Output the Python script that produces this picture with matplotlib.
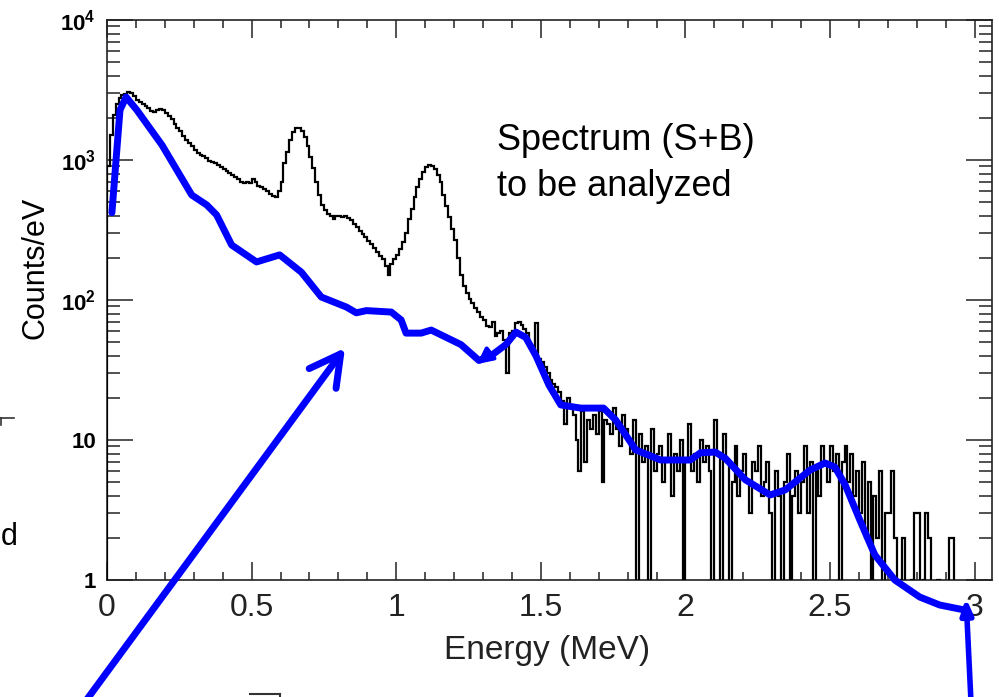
import numpy as np
import matplotlib
matplotlib.use("Agg")
import matplotlib.pyplot as plt
from matplotlib.lines import Line2D
from matplotlib.ticker import FixedLocator, FixedFormatter, LogLocator, MultipleLocator, NullFormatter

plt.rcParams['font.family'] = ['Liberation Sans', 'DejaVu Sans']
plt.rcParams['mathtext.fontset'] = 'custom'
plt.rcParams['mathtext.rm'] = 'Liberation Sans'
plt.rcParams['mathtext.bf'] = 'Liberation Sans:bold'

bin_width = 0.01
counts = [
    900, 1500, 2100, 2500, 2750, 2900, 2950, 3050, 3000, 2850,   # 0.0
    2700, 2600, 2500, 2420, 2350, 2250, 2200, 2260, 2310, 2260,  # 0.1
    2150, 2050, 1950, 1820, 1700, 1600, 1480, 1400, 1320, 1250,  # 0.2
    1180, 1130, 1090, 1060, 1030, 990, 970, 950, 920, 890,       # 0.3
    860, 830, 810, 780, 760, 730, 700, 680, 700, 690,            # 0.4
    730, 700, 650, 640, 620, 600, 570, 550, 540, 600,            # 0.5
    700, 950, 1150, 1380, 1580, 1680, 1700, 1620, 1450, 1250,    # 0.6
    1050, 880, 700, 560, 480, 440, 410, 400, 380, 395,           # 0.7
    400, 390, 395, 385, 370, 350, 330, 310, 295, 280,            # 0.8
    265, 250, 235, 220, 205, 195, 175, 150, 180, 195,            # 0.9
    210, 230, 260, 300, 380, 450, 540, 640, 730, 820,            # 1.0
    890, 920, 910, 860, 780, 700, 560, 470, 390, 320,            # 1.1
    270, 200, 150, 125, 112, 102, 95, 88, 82, 76,                # 1.2
    72, 65, 64, 70, 55, 58, 60, 52, 30, 58,                      # 1.3
    60, 68, 70, 66, 62, 58, 48, 44, 68, 38,                      # 1.4
    36, 33, 30, 27, 25, 24, 22, 19, 13, 20,                      # 1.5
    17, 15, 10, 6, 16, 7, 14, 12, 15, 11,                        # 1.6
    16, 5, 14, 13, 11, 17, 12, 9, 15, 12,                        # 1.7
    10, 8, 14, 0, 11, 7, 9, 0, 12, 6,                            # 1.8
    8, 9, 5, 7, 11, 4, 8, 6, 10, 0,                              # 1.9
    7, 13, 6, 8, 5, 10, 7, 9, 6, 0,                              # 2.0
    14, 8, 0, 11, 7, 0, 5, 9, 4, 6,                              # 2.1
    8, 5, 3, 7, 6, 9, 4, 5, 7, 3,                                # 2.2
    0, 6, 4, 0, 5, 8, 0, 4, 6, 3,                                # 2.3
    5, 9, 3, 7, 0, 6, 4, 9, 7, 5,                                # 2.4
    9, 6, 8, 0, 7, 9, 5, 8, 4, 6,                                # 2.5
    3, 7, 2, 5, 0, 4, 2, 6, 0, 3,                                # 2.6
    3, 6, 2, 0, 1, 2, 0, 0, 1, 3,                                # 2.7
    3, 0, 1, 3, 2, 0, 0, 1, 0, 0,                                # 2.8
    0, 2, 2, 0, 0, 0, 0, 0, 0, 0,                                # 2.9
]

# hand drawn blue background estimate
blue_e = [0.017, 0.034, 0.045, 0.066, 0.103, 0.19, 0.293, 0.345, 0.379, 0.431,
          0.517, 0.597, 0.672, 0.741, 0.828, 0.862, 0.897, 0.983, 1.017, 1.034,
          1.086, 1.121, 1.224, 1.286, 1.328, 1.379, 1.414, 1.448, 1.483, 1.528,
          1.569, 1.638, 1.717, 1.759, 1.828, 1.914, 2.017, 2.052, 2.103, 2.138,
          2.207, 2.293, 2.345, 2.431, 2.483, 2.517, 2.552, 2.603, 2.655, 2.724,
          2.81, 2.879, 2.966]
blue_y = [420, 1180, 2276, 2818, 2276, 1280, 562, 477, 405, 247,
          187, 210, 158, 105, 89, 81, 84, 82, 72, 58,
          58, 61, 48, 37, 40, 48, 59, 54, 40, 24.7,
          17.8, 16.9, 16.9, 13.9, 8.5, 7.2, 7.2, 8.1, 8.2, 7.4,
          5.2, 4.05, 4.4, 6.1, 6.85, 6.4, 4.8, 2.68, 1.51, 1.0,
          0.756, 0.663, 0.61]

x_ticks = [0, 0.5, 1, 1.5, 2, 2.5, 3]
x_labels = ['0', '0.5', '1', '1.5', '2', '2.5', '3']
y_ticks = [1, 10, 100, 1000, 10000]
y_labels = ['1', '10', r'$\mathbf{10^{2}}$', r'$\mathbf{10^{3}}$', r'$\mathbf{10^{4}}$']

W, H = 999, 697
fig = plt.figure(figsize=(W / 100, H / 100), dpi=100)
ax = fig.add_axes([107 / W, (H - 580) / H, 885 / W, 560 / H])

vals = np.array(counts, dtype=float)
vals[vals <= 0] = 0.2  # empty bins drop below the axis
edges = np.arange(len(vals) + 1) * bin_width
ax.stairs(vals, edges, color='black', lw=1.6, zorder=3)

ax.plot(blue_e, blue_y, color='#0000ff', lw=5, clip_on=False,
        solid_capstyle='round', solid_joinstyle='round', zorder=5)

ax.set_yscale('log')
ax.set_xlim(0, 3.06)
ax.set_ylim(1, 1e4)

ax.xaxis.set_major_locator(FixedLocator(x_ticks))
ax.xaxis.set_major_formatter(FixedFormatter(x_labels))
ax.xaxis.set_minor_locator(MultipleLocator(0.1))
ax.yaxis.set_major_locator(FixedLocator(y_ticks))
ax.yaxis.set_major_formatter(FixedFormatter(y_labels))
ax.yaxis.set_minor_locator(LogLocator(base=10, subs=np.arange(2, 10)))
ax.yaxis.set_minor_formatter(NullFormatter())

ax.tick_params(axis='both', which='both', direction='in', top=True, right=True,
               color='#222222', width=1.1)
ax.tick_params(axis='x', which='major', length=13, pad=9, labelsize=23, labelcolor='#222222')
ax.tick_params(axis='x', which='minor', length=6)
ax.tick_params(axis='y', which='major', length=19, pad=8, labelsize=16)
ax.tick_params(axis='y', which='minor', length=9.5)
for lab in ax.get_yticklabels():
    lab.set_fontweight('bold')
for sp in ax.spines.values():
    sp.set_color('#222222')
    sp.set_linewidth(1.2)

ax.set_xlabel('Energy (MeV)', fontsize=24, color='#222222')
ax.xaxis.set_label_coords(0.497, -0.098)
ax.set_ylabel('Counts/eV', fontsize=22, color='black', va='center')
ax.yaxis.set_label_coords(-0.081, 0.557)

fig.text(497 / W, 1 - 140 / H, 'Spectrum (S+B)', fontsize=26, va='center', ha='left')
fig.text(497 / W, 1 - 186 / H, 'to be analyzed', fontsize=26, va='center', ha='left')

# arrows drawn over the figure
ax.annotate('', xy=(345, H - 348), xycoords='figure pixels',
            xytext=(85, -5), textcoords='figure pixels', annotation_clip=False,
            arrowprops=dict(arrowstyle='->,head_length=1.1,head_width=0.6', color='#0000ff',
                            lw=5, mutation_scale=20, shrinkA=0, shrinkB=0))
ax.annotate('', xy=(966, H - 598), xycoords='figure pixels',
            xytext=(971, -5), textcoords='figure pixels', annotation_clip=False,
            arrowprops=dict(arrowstyle='-|>,head_length=0.9,head_width=0.35', color='#0000ff',
                            lw=4, mutation_scale=10, shrinkA=0, shrinkB=0))
ax.annotate('', xy=(477, H - 364), xycoords='figure pixels',
            xytext=(486, H - 357), textcoords='figure pixels', annotation_clip=False,
            arrowprops=dict(arrowstyle='-|>,head_length=0.9,head_width=0.45', color='#0000ff',
                            lw=3, mutation_scale=10, shrinkA=0, shrinkB=0))

# cropped leftovers at the edges of the slide
fig.text(1 / W, 1 - 537 / H, 'd', fontsize=22, va='center', ha='left')
fig.add_artist(Line2D([0, 14 / W], [1 - 418 / H] * 2, transform=fig.transFigure, color='#333333', lw=1.2))
fig.add_artist(Line2D([1 / W, 1 / W], [1 - 418 / H, 1 - 425 / H], transform=fig.transFigure, color='#333333', lw=1.2))
fig.add_artist(Line2D([250 / W, 280 / W], [1 - 694 / H] * 2, transform=fig.transFigure, color='#333333', lw=1.5))
fig.add_artist(Line2D([280 / W, 280 / W], [1 - 694 / H, 0], transform=fig.transFigure, color='#333333', lw=1.5))

fig.savefig('out.png', dpi=100)
